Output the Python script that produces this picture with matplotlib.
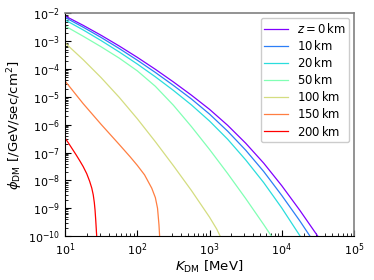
import matplotlib
matplotlib.use("Agg")
import matplotlib.pyplot as plt
import numpy as np

# depth labels
labels = [r"$z = 0\,\mathrm{km}$", r"$10\,\mathrm{km}$", r"$20\,\mathrm{km}$",
          r"$50\,\mathrm{km}$", r"$100\,\mathrm{km}$", r"$150\,\mathrm{km}$",
          r"$200\,\mathrm{km}$"]

# log10(K_DM / MeV) and log10(phi_DM)
logk_grid = [1.0, 1.25, 1.5, 1.75, 2.0, 2.25, 2.5, 2.75, 3.0, 3.25, 3.5,
             3.75, 4.0, 4.25, 4.5]

logk_0 = logk_grid + [4.6]
logphi_0 = [-2.09, -2.427, -2.787, -3.171, -3.578, -4.008, -4.462, -4.939,
            -5.447, -6.019, -6.662, -7.380, -8.191, -9.075, -10.011, -10.4]

logk_10 = logk_grid
logphi_10 = [-2.144, -2.493, -2.865, -3.261, -3.680, -4.121, -4.587, -5.076,
             -5.617, -6.229, -6.912, -7.680, -8.541, -9.455, -10.43]

logk_20 = logk_grid[:-1] + [4.4]
logphi_20 = [-2.234, -2.592, -2.977, -3.386, -3.818, -4.278, -4.767, -5.289,
             -5.867, -6.519, -7.262, -8.080, -8.991, -9.985, -10.6]

logk_50 = logk_grid[:12] + [3.9]
logphi_50 = [-2.45, -2.818, -3.200, -3.606, -4.063, -4.619, -5.300, -6.069,
             -6.888, -7.750, -8.650, -9.588, -10.17]

logk_100 = logk_grid[:9] + [3.1, 3.15, 3.17]
logphi_100 = [-3.06, -3.66, -4.31, -5.016, -5.785, -6.61, -7.473, -8.366,
              -9.322, -9.752, -10.017, -10.2]

logk_150 = [1.0, 1.25, 1.5, 1.75, 1.9, 2.0, 2.1, 2.2, 2.25, 2.28, 2.30, 2.31,
            2.315]
logphi_150 = [-4.43, -5.24, -5.99, -6.71, -7.15, -7.46, -7.80, -8.28, -8.62,
              -9.0, -9.6, -10.05, -10.5]

logk_200 = [1.0, 1.05, 1.1, 1.15, 1.2, 1.25, 1.3, 1.34, 1.37, 1.39, 1.405,
            1.415, 1.425, 1.433, 1.439, 1.442]
logphi_200 = [-6.48, -6.67, -6.87, -7.07, -7.28, -7.50, -7.76, -8.03, -8.28,
              -8.52, -8.8, -9.07, -9.45, -9.8, -10.05, -10.4]

curves = [(logk_0, logphi_0), (logk_10, logphi_10), (logk_20, logphi_20),
          (logk_50, logphi_50), (logk_100, logphi_100),
          (logk_150, logphi_150), (logk_200, logphi_200)]

colors = plt.cm.rainbow(np.linspace(0, 1, len(curves)))

fig = plt.figure(figsize=(3.74, 2.80), dpi=100)
ax = fig.add_axes([0.174, 0.157, 0.7725, 0.795])

for (lk, lp), c, lbl in zip(curves, colors, labels):
    ax.plot(10.0 ** np.array(lk), 10.0 ** np.array(lp), color=c, lw=0.9,
            label=lbl)

ax.set_xscale("log")
ax.set_yscale("log")
ax.set_xlim(10, 1e5)
ax.set_ylim(1e-10, 1e-2)
ax.set_yticks([10.0**e for e in range(-10, -1)])
ax.set_xlabel(r"$K_{\rm DM}$ [MeV]", fontsize=9.5, labelpad=1)
ax.set_ylabel(r"$\phi_{\rm DM}$ [/GeV/sec/cm$^2$]", fontsize=9.5, labelpad=2)
ax.tick_params(which="both", direction="in", top=False, right=False,
               labelsize=8)
ax.tick_params(which="major", length=4)
ax.tick_params(which="minor", length=2)
for s in ("top", "right"):
    ax.spines[s].set_color("gray")
    ax.spines[s].set_linewidth(1.2)

ax.legend(loc="upper right", fontsize=8.4, handlelength=2.0,
          labelspacing=0.27, borderpad=0.3, framealpha=1.0,
          borderaxespad=0.4)

fig.savefig("out.png", dpi=100)
